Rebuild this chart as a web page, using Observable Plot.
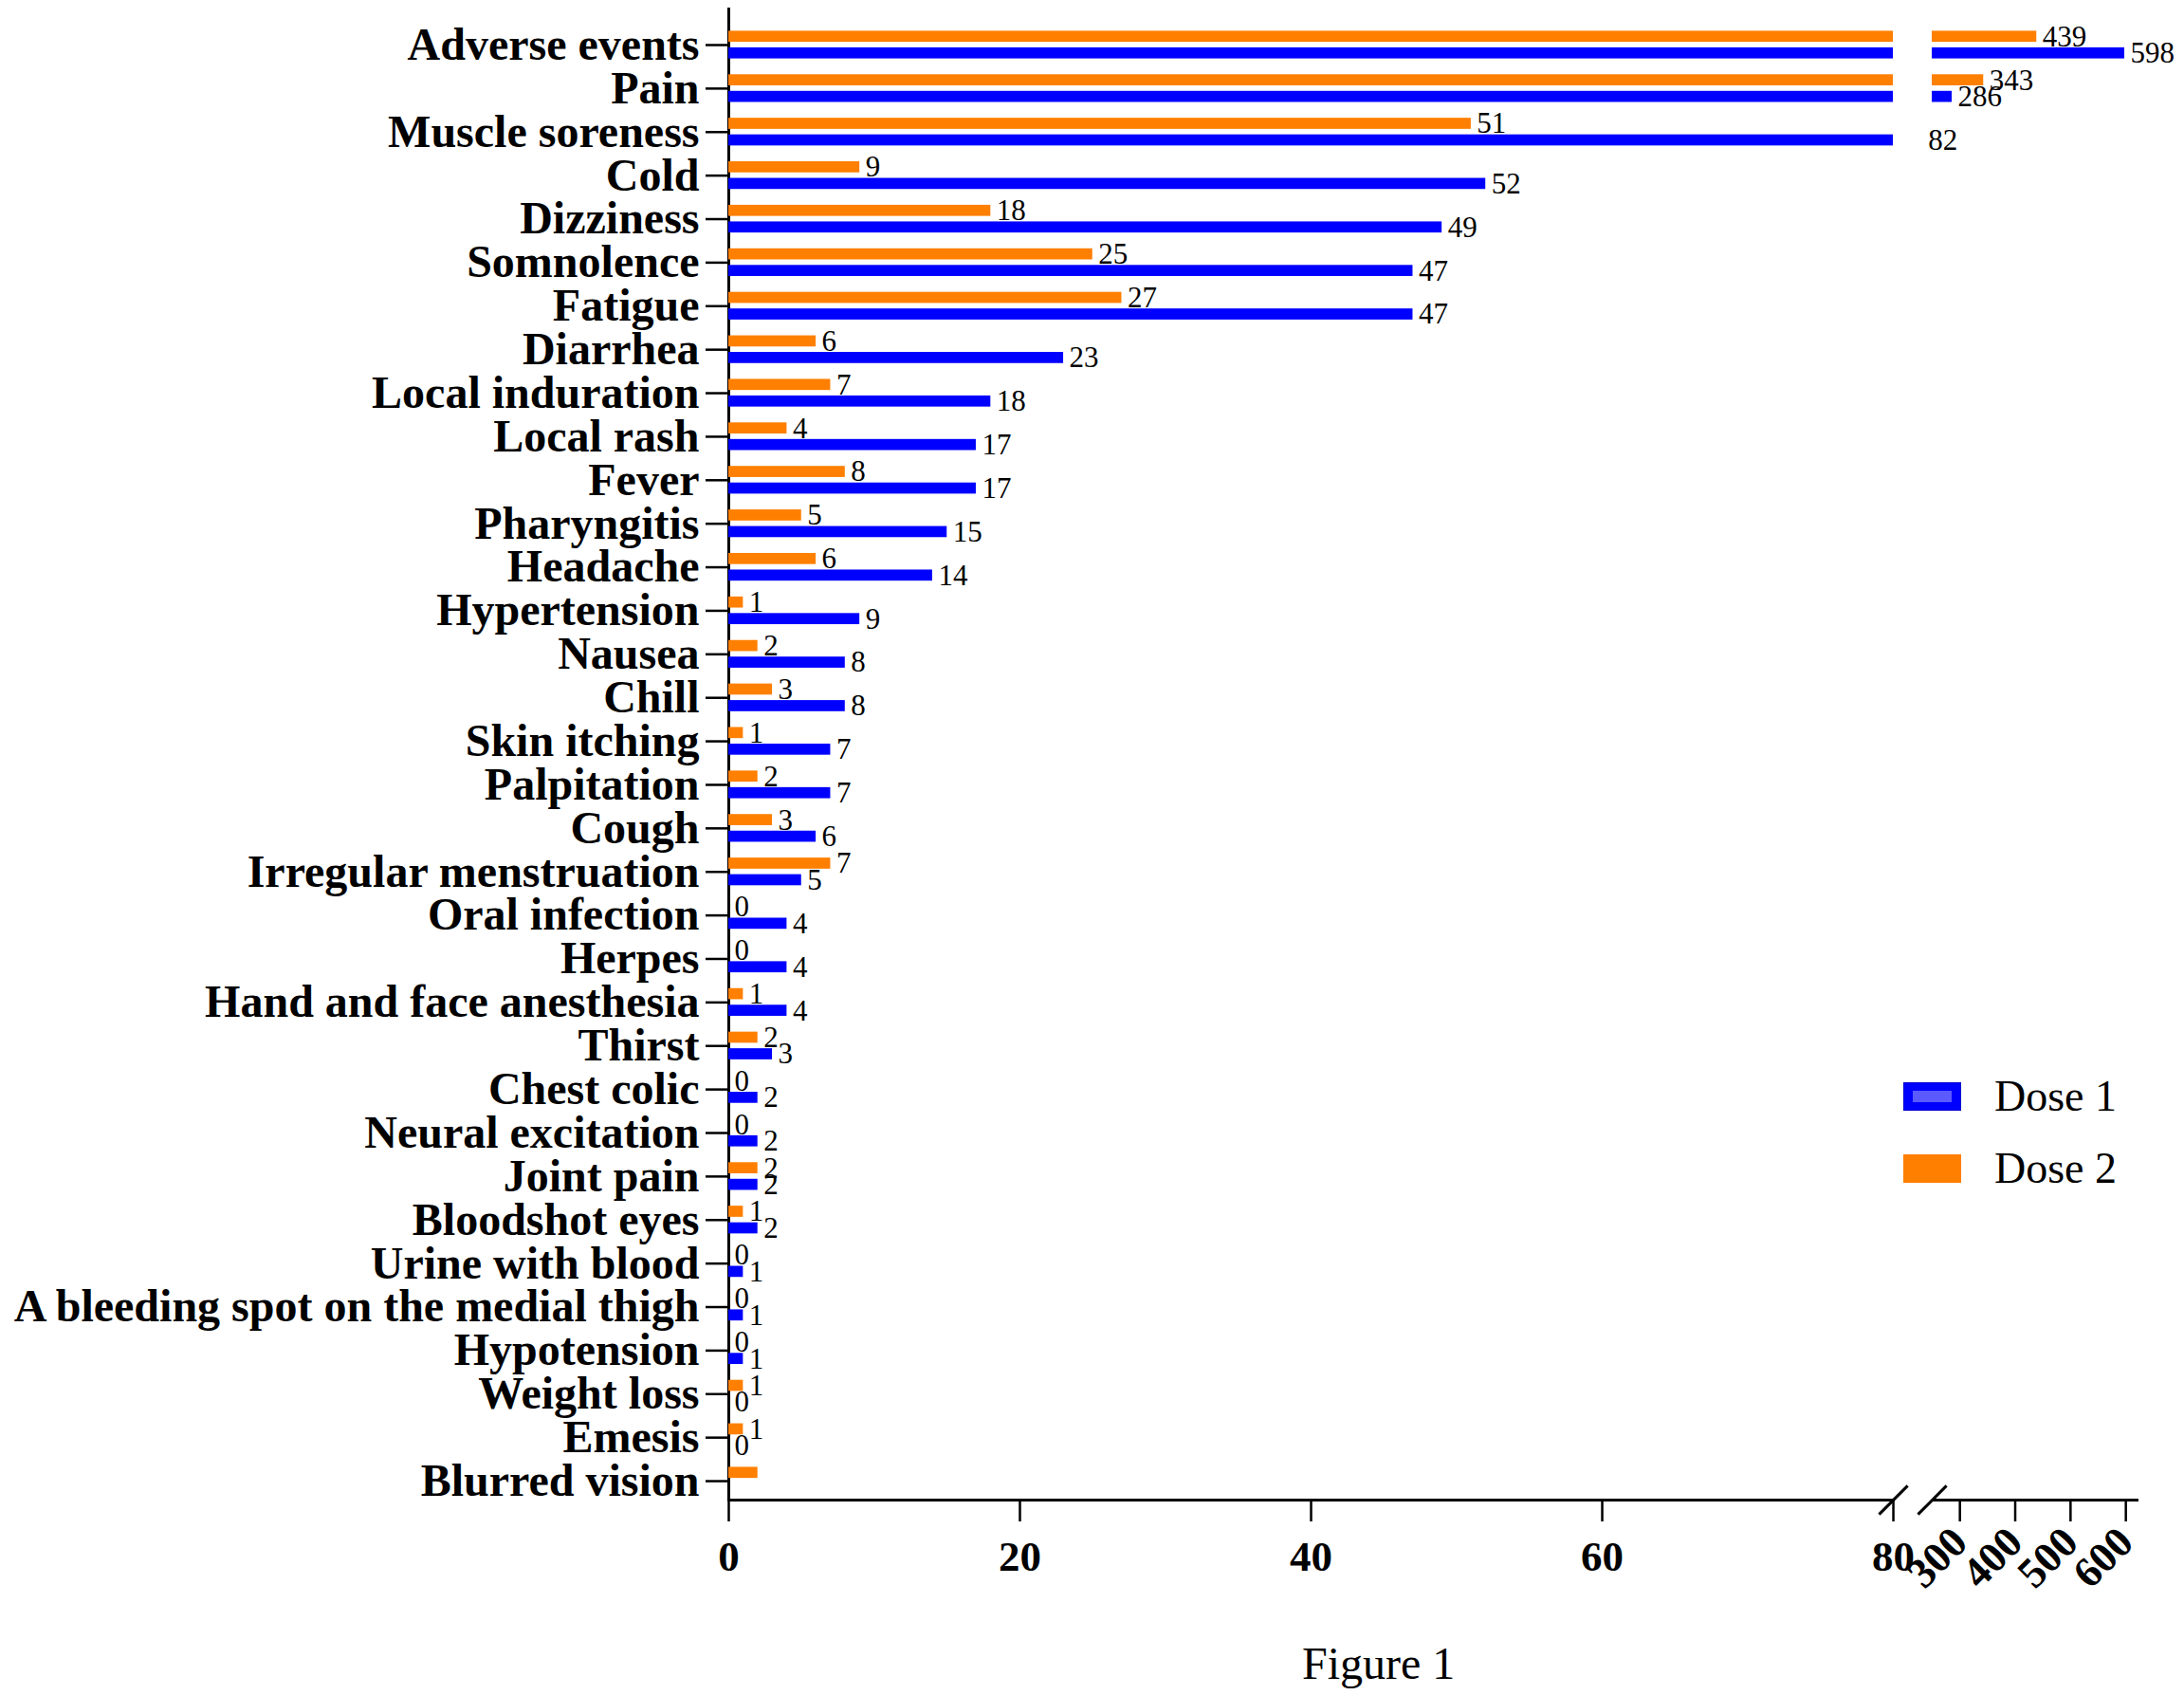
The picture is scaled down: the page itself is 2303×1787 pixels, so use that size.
<!DOCTYPE html>
<html>
<head>
<meta charset="utf-8">
<script src="https://cdn.jsdelivr.net/npm/d3@7"></script>
<script src="https://cdn.jsdelivr.net/npm/@observablehq/plot@0.6"></script>
<style>
  html, body { margin: 0; padding: 0; background: #fff; }
  #wrap { position: relative; width: 2303px; height: 1787px; font-family: "Liberation Serif", "Times New Roman", serif; }
  #legend { position: absolute; left: 2007px; top: 1140px; }
  .row { display: flex; align-items: center; height: 31px; margin-bottom: 45px; }
  .sw { width: 61px; height: 30px; box-sizing: border-box; }
  .sw1 { background: #0000ff; border: 1px solid #0000cc; position: relative; }
  .sw1 .inner { position: absolute; left: 9px; top: 8px; width: 41px; height: 12px; background: #5a5aff; }
  .sw2 { background: #ff7f00; }
  .lab { font-size: 46px; margin-left: 35px; color: #000; line-height: 31px; }
  #caption { font-size: 48px; line-height: 48px; margin-top: 20px; padding-left: 1373px; color: #000; }
</style>
</head>
<body>
<div id="wrap">
  <div id="chart"></div>
  <div id="caption">Figure 1</div>
  <div id="legend">
    <div class="row"><div class="sw sw1"><div class="inner"></div></div><div class="lab">Dose 1</div></div>
    <div class="row"><div class="sw sw2"></div><div class="lab">Dose 2</div></div>
  </div>
</div>
<script>
const categories = [
  "Adverse events", "Pain", "Muscle soreness", "Cold", "Dizziness", "Somnolence",
  "Fatigue", "Diarrhea", "Local induration", "Local rash", "Fever", "Pharyngitis",
  "Headache", "Hypertension", "Nausea", "Chill", "Skin itching", "Palpitation",
  "Cough", "Irregular menstruation", "Oral infection", "Herpes",
  "Hand and face anesthesia", "Thirst", "Chest colic", "Neural excitation",
  "Joint pain", "Bloodshot eyes", "Urine with blood",
  "A bleeding spot on the medial thigh", "Hypotension", "Weight loss", "Emesis",
  "Blurred vision"
];
const dose1 = [598, 286, 82, 52, 49, 47, 47, 23, 18, 17, 17, 15, 14, 9, 8, 8, 7, 7, 6, 5, 4, 4, 4, 3, 2, 2, 2, 2, 1, 1, 1, 0, 0, 0];
const dose2 = [439, 343, 51, 9, 18, 25, 27, 6, 7, 4, 8, 5, 6, 1, 2, 3, 1, 2, 3, 7, 0, 0, 1, 2, 0, 0, 2, 1, 0, 0, 0, 1, 1, 2];
const unlabelled = ["Blurred vision"];
const leftTicks = [0, 20, 40, 60, 80];
const rightTicks = [300, 400, 500, 600];
const breakAt = [80, 250];   // end of the first segment, start of the second

const colors = {"Dose 1": "#0000ff", "Dose 2": "#ff7f00"};

// broken axis: 0..80 linear, then 250..620 compressed
const LEFT_MAX = 80, RIGHT_MIN = 250, RIGHT_START = 82.67, RIGHT_K = 0.038;
const brk = v => v < 200 ? v : RIGHT_START + (v - RIGHT_MIN) * RIGHT_K;

const rows = [];
categories.forEach((c, i) => {
  rows.push({cat: c, dose: "Dose 1", v: dose1[i]});
  rows.push({cat: c, dose: "Dose 2", v: dose2[i]});
});
const leftSeg = rows.map(d => ({...d, x1: 0, x2: Math.min(d.v, LEFT_MAX)}));
const rightSeg = rows.filter(d => d.v > RIGHT_MIN).map(d => ({...d, x1: RIGHT_MIN, x2: d.v}));
const labelled = rows.filter(d => !unlabelled.includes(d.cat));

const STEP = 45.88;
const half = STEP / 2;
const barIn = {
  "Dose 2": {insetTop: half - 14.6, insetBottom: half + 2.9},
  "Dose 1": {insetTop: half + 2.9, insetBottom: half - 14.6}
};

const slash = {
  draw(context, size) {
    const r = Math.sqrt(size) / 2;
    context.moveTo(-r, r);
    context.lineTo(r, -r);
  }
};

const barMarks = ["Dose 2", "Dose 1"].flatMap(dose => [
  Plot.barX(leftSeg.filter(d => d.dose === dose), {
    x1: "x1", x2: "x2", y: "cat", fill: colors[dose], ...barIn[dose]
  }),
  Plot.barX(rightSeg.filter(d => d.dose === dose), {
    x1: "x1", x2: "x2", y: "cat", fill: colors[dose], ...barIn[dose]
  }),
  Plot.text(labelled.filter(d => d.dose === dose), {
    x: "v", y: "cat", text: d => String(d.v), textAnchor: "start",
    dx: 6, dy: dose === "Dose 2" ? -8.75 : 8.75, fontSize: 31, fill: "black",
    fontFamily: "'Liberation Serif', 'Times New Roman', serif"
  })
]);

const top0 = 47 - half;
const chart = Plot.plot({
  width: 2303,
  height: 1710,
  marginLeft: 768,
  marginRight: 50,
  marginTop: 8,
  marginBottom: 129,
  style: {fontFamily: "'Liberation Serif', 'Times New Roman', serif", color: "black", background: "white"},
  x: {type: "linear", domain: [0, 96.74], transform: brk, axis: null},
  y: {type: "band", domain: categories, range: [top0, top0 + STEP * categories.length], padding: 0, round: false, axis: null},
  marks: [
    Plot.frame({anchor: "bottom", strokeWidth: 3, stroke: "black"}),
    Plot.rect([0], {x1: breakAt[0], x2: breakAt[1], fill: "white", insetBottom: -6}),
    Plot.ruleX([0], {strokeWidth: 3, stroke: "black"}),
    ...barMarks,
    Plot.dot(breakAt, {x: d => d, frameAnchor: "bottom", symbol: slash, r: 17, stroke: "black", strokeWidth: 3, fill: "none"}),
    Plot.axisY({tickSize: 24, tickPadding: 7, fontSize: 48, fontWeight: "bold", strokeWidth: 2.5, label: null}),
    Plot.axisX(leftTicks, {tickSize: 23, tickPadding: 20, fontSize: 45, fontWeight: "bold", strokeWidth: 2.5, label: null, tickFormat: d => String(d)}),
    Plot.axisX(rightTicks, {tickSize: 23, tickPadding: 14, tickRotate: -45, fontSize: 45, fontWeight: "bold", strokeWidth: 2.5, label: null, tickFormat: d => String(d)})
  ]
});
document.getElementById("chart").appendChild(chart);
</script>
</body>
</html>
